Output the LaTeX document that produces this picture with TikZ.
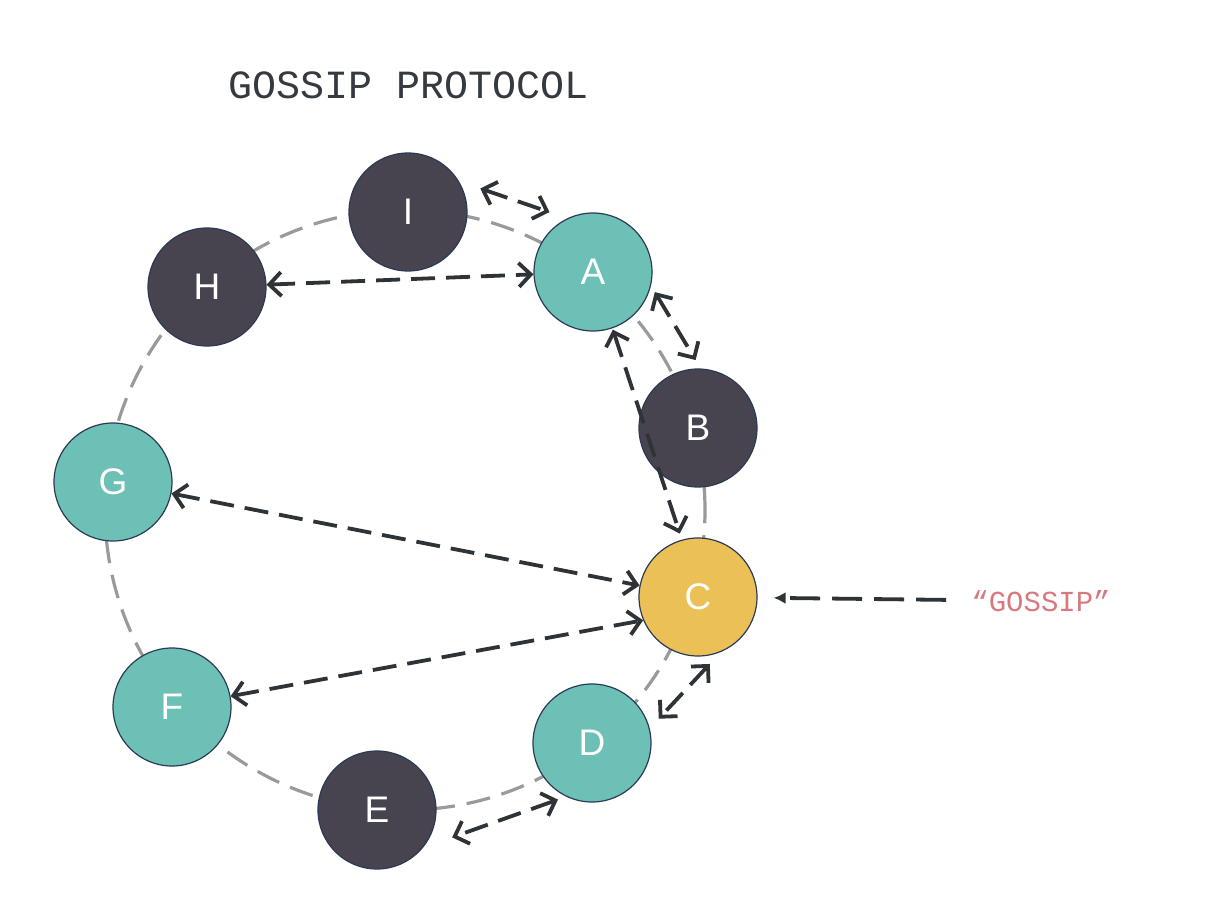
\documentclass[tikz,border=0pt]{standalone}
\usepackage{fontspec}
\setmainfont{Liberation Sans}
\newfontfamily\codefont{Liberation Mono}
\usetikzlibrary{arrows.meta,calc}
\definecolor{tealnode}{HTML}{6CC0B5}
\definecolor{darknode}{HTML}{47444F}
\definecolor{goldnode}{HTML}{EBC057}
\definecolor{rimblue}{HTML}{2B3A55}
\definecolor{arrowdark}{HTML}{2E3338}
\definecolor{ringgray}{HTML}{9A9A9A}
\definecolor{titlegray}{HTML}{343A40}
\definecolor{quotered}{HTML}{D77A80}
\begin{document}
\begin{tikzpicture}[x=1pt,y=1pt,
  peer/.style={circle,draw=rimblue,line width=1.2pt,minimum size=118pt,inner sep=0pt,
    text=white,font=\fontsize{37}{37}\selectfont},
  infected/.style={peer,fill=tealnode},
  idle/.style={peer,fill=darknode},
  source/.style={peer,fill=goldnode},
  ring/.style={draw=ringgray,line width=3.2pt,dash pattern=on 24pt off 12pt},
  gossip/.style={draw=arrowdark,line width=3.8pt,dash pattern=on 24pt off 11pt,
    {Straight Barb[length=12pt,width=24pt]}-{Straight Barb[length=12pt,width=24pt]}},
  inject/.style={draw=arrowdark,line width=3.8pt,dash pattern=on 30pt off 12pt,
    -{Latex[length=12pt,width=12pt]}}]
\useasboundingbox (0,0) rectangle (1218,-907);

% title
\node[font=\codefont\fontsize{40}{40}\selectfont,text=titlegray] (title) at (409,-85) {GOSSIP PROTOCOL};

% ring of peers
\draw[ring] (405,-510) circle (300);

\node[idle] (I) at (408,-212) {I};
\node[infected] (A) at (593,-272) {A};
\node[idle] (B) at (698,-428) {B};
\node[source] (C) at (698,-597) {C};
\node[infected] (D) at (592,-743) {D};
\node[idle] (E) at (377,-810) {E};
\node[infected] (F) at (172,-707) {F};
\node[infected] (G) at (113,-482) {G};
\node[idle] (H) at (207,-287) {H};

% exchanges
\draw[gossip] ($(I)+(18:76)$) -- ($(A)+(126:74)$);
\draw[gossip] (H) -- (A);
\draw[gossip] ($(A)+(-18:65)$) -- ($(B)+(92:68)$);
\draw[gossip] ($(A)+(-71:61)$) -- ($(C)+(106:66)$);
\draw[gossip] (G) -- (C);
\draw[gossip] (F) -- (C.203);
\draw[gossip] ($(C)+(-80:68)$) -- ($(D)+(20:71)$);
\draw[gossip] ($(D)+(-121:66)$) -- ($(E)+(-20:80)$);

% incoming message
\node[font=\codefont\fontsize{29}{29}\selectfont,text=quotered,inner sep=2pt] (msg) at (1041,-601) {“GOSSIP”};
\draw[inject,shorten <=23pt,shorten >=16pt] (msg) -- (C);
\end{tikzpicture}
\end{document}
